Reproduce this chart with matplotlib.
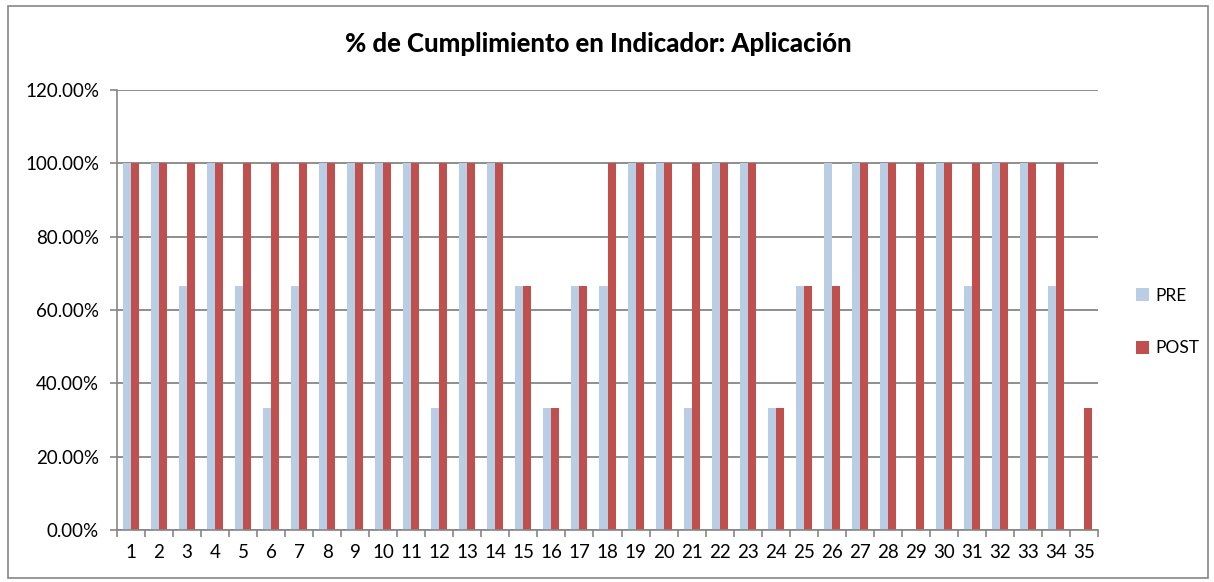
import matplotlib
matplotlib.use("Agg")
import matplotlib.pyplot as plt
from matplotlib.patches import Rectangle
import numpy as np

plt.rcParams['font.family'] = ['Lato', 'DejaVu Sans']

categories = [str(i) for i in range(1, 36)]
pre = [100, 100, 66.67, 100, 66.67, 33.33, 66.67, 100, 100, 100,
       100, 33.33, 100, 100, 66.67, 33.33, 66.67, 66.67, 100, 100,
       33.33, 100, 100, 33.33, 66.67, 100, 100, 100, 0, 100,
       66.67, 100, 100, 66.67, 0]
post = [100, 100, 100, 100, 100, 100, 100, 100, 100, 100,
        100, 100, 100, 100, 66.67, 33.33, 66.67, 100, 100, 100,
        100, 100, 100, 33.33, 66.67, 66.67, 100, 100, 100, 100,
        100, 100, 100, 100, 33.33]
yticks = [0, 20, 40, 60, 80, 100, 120]

W, H = 1214, 582
fig = plt.figure(figsize=(W / 100, H / 100), dpi=100)
ax = fig.add_axes([117 / W, 1 - 530 / H, (1098 - 117) / W, (530 - 90) / H])

x = np.arange(len(categories))
bw = 0.2857
ax.bar(x - bw / 2, pre, width=bw, color='#B9CDE5', label='PRE', zorder=3)
ax.bar(x + bw / 2, post, width=bw, color='#C0504D', label='POST', zorder=3)

ax.set_xlim(-0.5, len(categories) - 0.5)
ax.set_ylim(0, 120)
ax.set_yticks(yticks)
ax.set_yticklabels([f"{v:.2f}%" for v in yticks], fontsize=13.5)
ax.set_xticks(x)
ax.set_xticklabels(categories, fontsize=13.5)
ax.tick_params(axis='x', which='major', length=0, pad=10)
ax.set_xticks(np.arange(-0.5, len(categories)), minor=True)
ax.tick_params(axis='x', which='minor', length=5, color='#868686', width=1.2)
ax.tick_params(axis='y', length=5, color='#868686', width=1.2, pad=8)

ax.grid(axis='y', color='#868686', linewidth=1.3, zorder=0)
for s in ['top', 'right']:
    ax.spines[s].set_visible(False)
for s in ['left', 'bottom']:
    ax.spines[s].set_color('#868686')
    ax.spines[s].set_linewidth(1.2)
    ax.spines[s].set_zorder(4)

fig.text(598 / W, 1 - 44 / H, '% de Cumplimiento en Indicador: Aplicación',
         ha='center', va='center', fontsize=18.5, fontweight='black')

fig.legend(loc='center left', bbox_to_anchor=(1120 / W, 1 - 322 / H),
           frameon=False, fontsize=12.5, handlelength=0.75, handleheight=0.75,
           handletextpad=0.4, labelspacing=2.1)

fig.patches.append(Rectangle((8 / W, 1 - 578 / H), 1200 / W, 572 / H,
                             transform=fig.transFigure, fill=False,
                             edgecolor='#868686', linewidth=1.2))

fig.savefig('out.png', dpi=100)
